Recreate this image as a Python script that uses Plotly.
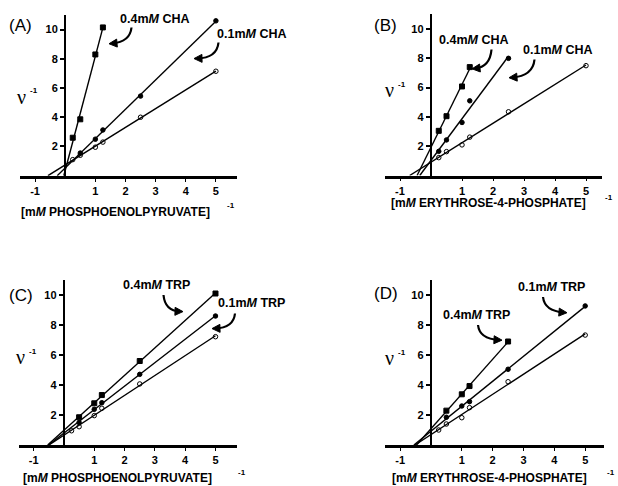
import numpy as np
import plotly.graph_objects as go

W, H = 618, 486

# ---------------- data ----------------
# Panel A: PEP varied, CHA inhibitor
a_ctrl_x = [0.25, 0.5, 1.0, 1.25, 2.5, 5.0]
a_ctrl_y = [1.1, 1.4, 1.95, 2.3, 4.0, 7.15]
a_lo_x = [0.5, 1.0, 1.25, 2.5, 5.0]
a_lo_y = [1.55, 2.5, 3.13, 5.45, 10.6]
a_hi_x = [0.25, 0.5, 1.0, 1.25]
a_hi_y = [2.6, 3.86, 8.3, 10.15]

# Panel B: E4P varied, CHA inhibitor
b_ctrl_x = [0.25, 0.5, 1.0, 1.25, 2.5, 5.0]
b_ctrl_y = [1.22, 1.63, 2.09, 2.62, 4.35, 7.5]
b_lo_x = [0.25, 0.5, 1.0, 1.25, 2.5]
b_lo_y = [1.65, 2.43, 3.62, 5.1, 8.0]
b_hi_x = [0.25, 0.5, 1.0, 1.25]
b_hi_y = [3.05, 4.05, 6.08, 7.4]

# Panel C: PEP varied, TRP inhibitor
c_ctrl_x = [0.25, 0.5, 1.0, 1.25, 2.5, 5.0]
c_ctrl_y = [0.95, 1.22, 1.96, 2.45, 4.07, 7.22]
c_lo_x = [0.5, 1.0, 1.25, 2.5, 5.0]
c_lo_y = [1.5, 2.38, 2.82, 4.71, 8.6]
c_hi_x = [0.5, 1.0, 1.25, 2.5, 5.0]
c_hi_y = [1.85, 2.78, 3.33, 5.6, 10.1]

# Panel D: E4P varied, TRP inhibitor
d_ctrl_x = [0.25, 0.5, 1.0, 1.25, 2.5, 5.0]
d_ctrl_y = [1.0, 1.4, 1.82, 2.49, 4.22, 7.33]
d_lo_x = [0.5, 1.0, 1.25, 2.5, 5.0]
d_lo_y = [1.85, 2.6, 2.89, 5.05, 9.27]
d_hi_x = [0.5, 1.0, 1.25, 2.5]
d_hi_y = [2.29, 3.38, 3.93, 6.9]

x_ticks = [-1, 1, 2, 3, 4, 5]
y_ticks = [2, 4, 6, 8, 10]

panels = [
    dict(tag="(A)", ctrl=(a_ctrl_x, a_ctrl_y), lo=(a_lo_x, a_lo_y), hi=(a_hi_x, a_hi_y),
         xr=[-1.5, 5.7], px=(20, 237), py=(15, 175.7),
         xlabel="[m<i>M</i> PHOSPHOENOLPYRUVATE]", xl_pos=(19, 212), sup_pos=(231, 206),
         tag_pos=(7, 26), v_pos=(21, 97), vs_pos=(34, 91),
         hi_lab=("0.4m<i>M</i> CHA", 154, 19), lo_lab=("0.1m<i>M</i> CHA", 251, 34),
         arrows=[((131.5, 27.5), (130, 42), (112, 43.5)), ((218.5, 42.5), (217, 58), (197, 58.5))]),
    dict(tag="(B)", ctrl=(b_ctrl_x, b_ctrl_y), lo=(b_lo_x, b_lo_y), hi=(b_hi_x, b_hi_y),
         xr=[-1.5, 5.5], px=(384.5, 601.5), py=(14.4, 175.5),
         xlabel="[m<i>M</i> ERYTHROSE-4-PHOSPHATE]", xl_pos=(389, 203), sup_pos=(609, 197),
         tag_pos=(372, 25), v_pos=(389, 90), vs_pos=(402, 84),
         hi_lab=("0.4m<i>M</i> CHA", 473, 40), lo_lab=("0.1m<i>M</i> CHA", 557, 50),
         arrows=[((491.5, 49.5), (490, 67), (475, 68.5)), ((534.5, 59.5), (533, 76), (512, 77.5))]),
    dict(tag="(C)", ctrl=(c_ctrl_x, c_ctrl_y), lo=(c_lo_x, c_lo_y), hi=(c_hi_x, c_hi_y),
         xr=[-1.5, 5.7], px=(18.5, 236.7), py=(280, 445),
         xlabel="[m<i>M</i> PHOSPHOENOLPYRUVATE]", xl_pos=(21, 478), sup_pos=(242, 472),
         tag_pos=(7, 295), v_pos=(20, 357), vs_pos=(33, 351),
         hi_lab=("0.4m<i>M</i> TRP", 156, 285), lo_lab=("0.1m<i>M</i> TRP", 251, 303),
         arrows=[((163.5, 295), (165, 311), (180, 311.5)), ((235, 313.5), (233.5, 328), (215, 328.5))]),
    dict(tag="(D)", ctrl=(d_ctrl_x, d_ctrl_y), lo=(d_lo_x, d_lo_y), hi=(d_hi_x, d_hi_y),
         xr=[-1.5, 5.6], px=(384.7, 603.7), py=(280, 445),
         xlabel="[m<i>M</i> ERYTHROSE-4-PHOSPHATE]", xl_pos=(390, 478), sup_pos=(611, 472),
         tag_pos=(372, 293), v_pos=(389, 358), vs_pos=(402, 352),
         hi_lab=("0.4m<i>M</i> TRP", 476, 315), lo_lab=("0.1m<i>M</i> TRP", 551, 287),
         arrows=[((478, 325), (479.5, 339), (499, 340)), ((543, 297), (544.5, 311), (564, 312.5))]),
]


def fx(p):
    return p / W


def fy(p):
    return 1 - p / H


fig = go.Figure()
shapes = []
annotations = []
FONT = "Liberation Sans, Arial"
BOLD = dict(family=FONT, size=11, color="black", weight="bold")


def text(x, y, s, size, family=FONT, bold=True, anchor="left"):
    f = dict(family=family, size=size, color="black")
    if bold:
        f["weight"] = "bold"
    annotations.append(dict(x=fx(x), y=fy(y), xref="paper", yref="paper", text=s,
                            showarrow=False, xanchor=anchor, yanchor="middle", font=f))


for i, P in enumerate(panels, start=1):
    xa = "x" if i == 1 else f"x{i}"
    ya = "y" if i == 1 else f"y{i}"
    for key, sym, msize in [("ctrl", "circle-open", 4.5),
                            ("lo", "circle", 4.5),
                            ("hi", "square", 5)]:
        xs, ys = P[key]
        m, b = np.polyfit(xs, ys, 1)
        x0 = -b / m
        x1 = max(xs)
        fig.add_trace(go.Scatter(x=[x0, x1], y=[0, m * x1 + b], mode="lines",
                                 line=dict(color="black", width=1.4),
                                 xaxis=xa, yaxis=ya, showlegend=False, hoverinfo="skip"))
        fig.add_trace(go.Scatter(x=xs, y=ys, mode="markers",
                                 marker=dict(symbol=sym, size=msize, color="black",
                                             line=dict(color="black", width=1)),
                                 xaxis=xa, yaxis=ya, showlegend=False))

    x0p, x1p = P["px"]
    yt, yb = P["py"]
    xr = P["xr"]
    zero_px = x0p + (0 - xr[0]) / (xr[1] - xr[0]) * (x1p - x0p)
    sfx = "" if i == 1 else str(i)
    fig.layout[f"xaxis{sfx}"] = dict(
        domain=[fx(x0p), fx(x1p)], range=xr, anchor=ya,
        showline=True, linewidth=2.6, linecolor="black",
        tickvals=x_ticks, ticktext=[str(t) for t in x_ticks],
        ticks="outside", ticklen=3, tickwidth=1.2, tickcolor="black",
        tickfont=BOLD, showgrid=False, zeroline=False, fixedrange=True)
    fig.layout[f"yaxis{sfx}"] = dict(
        domain=[fy(yb), fy(yt)], range=[0, 11], anchor="free", position=fx(zero_px),
        showline=True, linewidth=2.4, linecolor="black",
        tickvals=y_ticks, ticks="outside", ticklen=4, tickwidth=1.5, tickcolor="black",
        tickfont=BOLD, showgrid=False, zeroline=False, fixedrange=True)

    text(*P["tag_pos"], P["tag"], 17, bold=False)
    text(*P["v_pos"], "ν", 20, family="Liberation Serif, Times New Roman", bold=False, anchor="center")
    text(*P["vs_pos"], "-1", 8, anchor="center")
    text(*P["xl_pos"], P["xlabel"], 12)
    text(*P["sup_pos"], "-1", 8, anchor="center")
    for lab in (P["hi_lab"], P["lo_lab"]):
        text(lab[1], lab[2], lab[0], 12.5, anchor="center")

    for (s, c, e) in P["arrows"]:
        path = f"M {fx(s[0])},{fy(s[1])} Q {fx(c[0])},{fy(c[1])} {fx(e[0])},{fy(e[1])}"
        shapes.append(dict(type="path", path=path, xref="paper", yref="paper",
                           line=dict(color="black", width=2.2)))
        dx, dy = e[0] - c[0], e[1] - c[1]
        n = (dx ** 2 + dy ** 2) ** 0.5
        ux, uy = dx / n, dy / n
        L, Wd = 8, 4
        tip = (e[0] + ux * 3, e[1] + uy * 3)
        base = (tip[0] - ux * L, tip[1] - uy * L)
        p1 = (base[0] - uy * Wd, base[1] + ux * Wd)
        p2 = (base[0] + uy * Wd, base[1] - ux * Wd)
        tri = (f"M {fx(tip[0])},{fy(tip[1])} L {fx(p1[0])},{fy(p1[1])} "
               f"L {fx(p2[0])},{fy(p2[1])} Z")
        shapes.append(dict(type="path", path=tri, xref="paper", yref="paper",
                           fillcolor="black", line=dict(color="black", width=1)))

fig.update_layout(width=W, height=H, margin=dict(l=0, r=0, t=0, b=0),
                  paper_bgcolor="white", plot_bgcolor="white",
                  shapes=shapes, annotations=annotations, showlegend=False)

fig.write_html("out.html")
